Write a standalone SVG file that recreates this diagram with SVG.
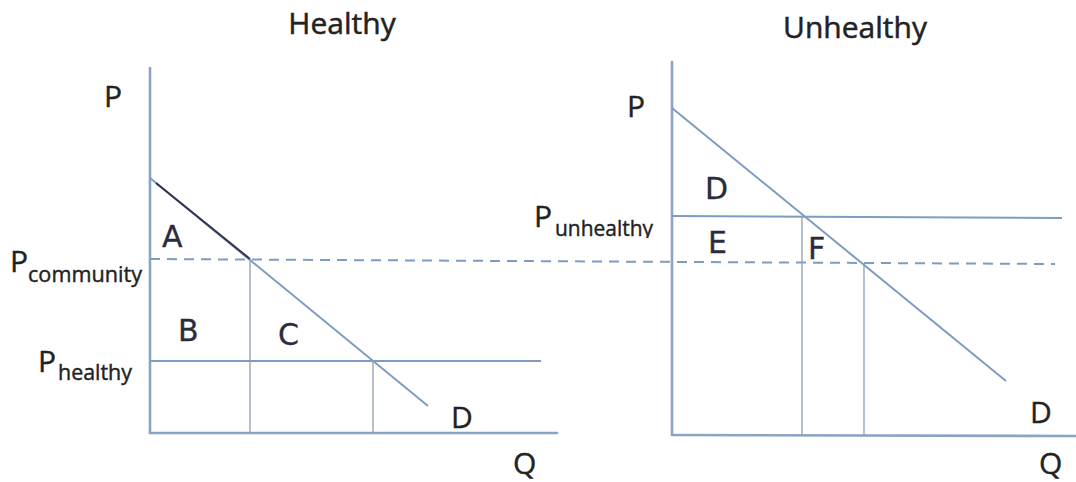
<svg xmlns="http://www.w3.org/2000/svg" width="1076" height="482" viewBox="0 0 1076 482">
<style>
.axis{stroke:#8aa4c4;stroke-width:2.6;fill:none;stroke-linecap:round}
.curve{stroke:#7d9cc0;stroke-width:2;fill:none}
.hline{stroke:#7d9cc0;stroke-width:2;fill:none}
.vline{stroke:#8e9fb5;stroke-width:1.3;fill:none}
.dash{stroke:#7d9cc0;stroke-width:2;fill:none;stroke-dasharray:10 7}
.lbl{font-family:"Open Sans","Liberation Sans",sans-serif;fill:#222;stroke:#222;stroke-width:0.4}
.title{font-family:"Open Sans","Liberation Sans",sans-serif;font-size:30px;fill:#222;stroke:#222;stroke-width:0.5}
.big{font-size:30px}
.sub{font-size:21px}
.hand{font-family:"DejaVu Sans","Liberation Sans",sans-serif;font-size:30px;fill:#2b2b3d;stroke:#2b2b3d;stroke-width:0.3}
</style>
<defs>
<clipPath id="clipUnh"><rect x="500" y="195" width="170" height="43"/></clipPath>
</defs>
<rect width="1076" height="482" fill="#ffffff"/>

<g id="titles">
<text class="title" x="342" y="34" text-anchor="middle">Healthy</text>
<text class="title" x="855" y="38" text-anchor="middle">Unhealthy</text>
</g>

<g id="connectors">
<!-- left graph -->
<line class="axis" x1="150" y1="68" x2="150" y2="433"/>
<line class="axis" x1="150" y1="433" x2="557" y2="433"/>
<line class="curve" x1="150" y1="178" x2="428" y2="406"/>
<line x1="156" y1="183" x2="250" y2="259" stroke="#33344f" stroke-width="2"/>
<line class="hline" x1="150" y1="361" x2="541" y2="361"/>
<line class="vline" x1="250" y1="259" x2="250" y2="433"/>
<line class="vline" x1="373" y1="361" x2="373" y2="433"/>
<!-- dashed community price -->
<line class="dash" x1="150" y1="259" x2="1055" y2="264"/>
<!-- right graph -->
<line class="axis" x1="672" y1="62" x2="672" y2="435"/>
<line class="axis" x1="672" y1="435" x2="1076" y2="436"/>
<line class="curve" x1="672" y1="108" x2="1006" y2="381"/>
<line class="hline" x1="672" y1="216" x2="1062" y2="218"/>
<line class="vline" x1="802" y1="216" x2="802" y2="435"/>
<line class="vline" x1="864" y1="263" x2="864" y2="435"/>
</g>

<g id="left-labels">
<text class="lbl big" x="104" y="107">P</text>
<text class="lbl big" x="10" y="272">P<tspan class="sub" x="28" y="282" textLength="114" lengthAdjust="spacingAndGlyphs">community</tspan></text>
<text class="lbl big" x="38" y="372">P<tspan class="sub" x="58" y="380" textLength="74" lengthAdjust="spacingAndGlyphs">healthy</tspan></text>
<text class="lbl big" x="451" y="428">D</text>
<text class="lbl big" x="513" y="474">Q</text>
</g>

<g id="right-labels">
<text class="lbl big" x="627" y="117">P</text>
<g clip-path="url(#clipUnh)">
<text class="lbl big" x="534" y="227">P<tspan class="sub" x="555" y="236" textLength="98" lengthAdjust="spacingAndGlyphs">unhealthy</tspan></text>
</g>
<text class="lbl big" x="1030" y="423">D</text>
<text class="lbl big" x="1039" y="474">Q</text>
</g>

<g id="areas">
<text class="hand" x="162" y="247">A</text>
<text class="hand" x="178" y="341">B</text>
<text class="hand" x="278" y="345">C</text>
<text class="hand" x="705" y="199">D</text>
<text class="hand" x="708" y="253">E</text>
<text class="hand" x="808" y="259">F</text>
</g>
</svg>
